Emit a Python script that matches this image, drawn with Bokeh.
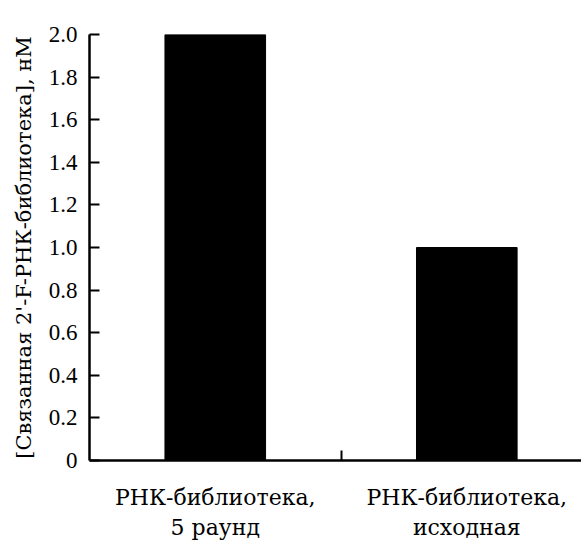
from bokeh.plotting import figure
from bokeh.models import Range1d, FixedTicker
from bokeh.embed import file_html
from bokeh.resources import INLINE

categories = ["РНК-библиотека,\n5 раунд", "РНК-библиотека,\nисходная"]
values = [2.0, 1.0]
y_ticks = [0, 0.2, 0.4, 0.6, 0.8, 1.0, 1.2, 1.4, 1.6, 1.8, 2.0]
y_labels = ["0", "0.2", "0.4", "0.6", "0.8", "1.0", "1.2", "1.4", "1.6", "1.8", "2.0"]
y_title = "[Связанная 2'-F-РНК-библиотека], нМ"

positions = [i + 0.5 for i in range(len(categories))]
boundaries = [float(i) for i in range(1, len(categories))]

p = figure(width=581, height=545,
           x_range=Range1d(0, 1.956), y_range=Range1d(0, 2.0),
           output_backend="svg", toolbar_location=None,
           min_border_left=89, min_border_top=34, min_border_bottom=85, min_border_right=0)

p.vbar(x=positions, top=values, width=0.4, fill_color="black", line_color="black")

p.xgrid.visible = False
p.ygrid.visible = False
p.outline_line_color = None

# y axis
ya = p.yaxis[0]
ya.ticker = FixedTicker(ticks=y_ticks, minor_ticks=[])
ya.major_label_overrides = {t: l for t, l in zip(y_ticks, y_labels)}
ya.major_tick_in = 10
ya.major_tick_out = 0
ya.minor_tick_in = 0
ya.minor_tick_out = 0
ya.axis_line_width = 2.5
ya.major_tick_line_width = 2
ya.axis_line_color = "black"
ya.major_tick_line_color = "black"
ya.major_label_standoff = 12
ya.major_label_text_font = "Liberation Serif"
ya.major_label_text_font_size = "23px"
ya.major_label_text_color = "black"
ya.axis_label = y_title
ya.axis_label_text_font = "DejaVu Serif"
ya.axis_label_text_font_size = "21px"
ya.axis_label_text_font_style = "normal"
ya.axis_label_text_color = "black"
ya.axis_label_standoff = 10

# x axis
xa = p.xaxis[0]
xa.ticker = FixedTicker(ticks=positions, minor_ticks=boundaries)
xa.major_label_overrides = {pos: c for pos, c in zip(positions, categories)}
xa.major_tick_in = 0
xa.major_tick_out = 0
xa.minor_tick_in = 10
xa.minor_tick_out = 0
xa.minor_tick_line_width = 2
xa.minor_tick_line_color = "black"
xa.axis_line_width = 2.5
xa.axis_line_color = "black"
xa.major_label_standoff = 24
xa.major_label_text_font = "DejaVu Serif"
xa.major_label_text_font_size = "22px"
xa.major_label_text_color = "black"

open("out.html", "w").write(file_html(p, INLINE))
